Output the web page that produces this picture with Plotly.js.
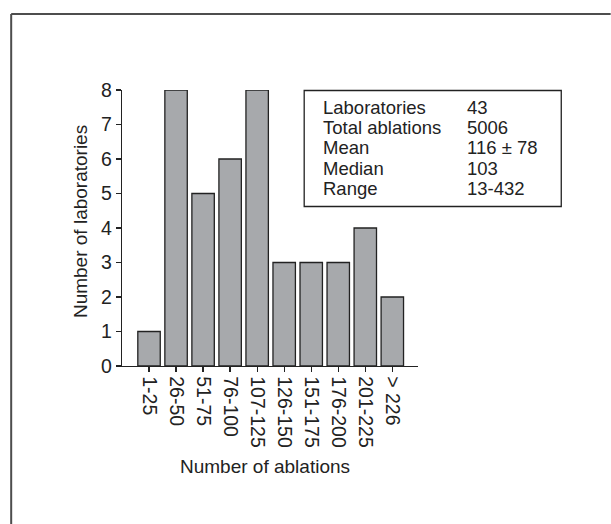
<!DOCTYPE html>
<html>
<head>
<meta charset="utf-8">
<script src="https://cdn.plot.ly/plotly-3.0.1.min.js"></script>
<style>html,body{margin:0;padding:0;background:#fff;}#chart{width:611px;height:524px;}</style>
</head>
<body>
<div id="chart"></div>
<script>
// Data
const categories = ["1-25", "26-50", "51-75", "76-100", "107-125", "126-150", "151-175", "176-200", "201-225", "> 226"];
const laboratories = [1, 8, 5, 6, 8, 3, 3, 3, 4, 2];
const statLabels = ["Laboratories", "Total ablations", "Mean", "Median", "Range"];
const statValues = ["43", "5006", "116 \u00b1 78", "103", "13-432"];
const xTitle = "Number of ablations";
const yTitle = "Number of laboratories";

const FONT = "'Liberation Sans', Arial, sans-serif";
const INK = "#222222";

// Plot geometry (pixels)
const W = 611, H = 524;
const L = 121.5, R = 418, T = 90, B = 366;
const pw = R - L, ph = B - T;
const px = x => (x - L) / pw;
const py = y => (B - y) / ph;

const annotations = [];
const rowTop = 107.5, rowStep = 20.2;
statLabels.forEach((lab, i) => {
  annotations.push({xref: "paper", yref: "paper", x: px(321), y: py(rowTop + i * rowStep),
    xanchor: "left", yanchor: "middle", showarrow: false, text: lab,
    font: {family: FONT, size: 18.5, color: INK}});
  annotations.push({xref: "paper", yref: "paper", x: px(465), y: py(rowTop + i * rowStep),
    xanchor: "left", yanchor: "middle", showarrow: false, text: statValues[i],
    font: {family: FONT, size: 18.5, color: INK}});
});
annotations.push({xref: "paper", yref: "paper", x: px(265), y: py(466), xanchor: "center", yanchor: "middle",
  showarrow: false, text: xTitle, font: {family: FONT, size: 19, color: INK}});
annotations.push({xref: "paper", yref: "paper", x: px(80), y: py(221.5), xanchor: "center", yanchor: "middle",
  showarrow: false, textangle: -90, text: yTitle, font: {family: FONT, size: 19, color: INK}});

const shapes = [
  {type: "rect", xref: "paper", yref: "paper", x0: px(304), x1: px(561.5), y0: py(206.5), y1: py(90.5),
    line: {color: INK, width: 1.3}, fillcolor: "rgba(0,0,0,0)"},
  {type: "line", xref: "paper", yref: "paper", x0: px(10.5), x1: px(611), y0: py(14), y1: py(14),
    line: {color: "#4d4d4d", width: 2}},
  {type: "line", xref: "paper", yref: "paper", x0: px(10.5), x1: px(10.5), y0: py(14), y1: py(524),
    line: {color: "#4d4d4d", width: 2}}
];

const trace = {
  type: "bar", x: categories, y: laboratories,
  marker: {color: "#a7a9ac", line: {color: INK, width: 1.3}},
  hoverinfo: "none"
};

const layout = {
  width: W, height: H,
  margin: {l: L, r: W - R, t: T, b: H - B, pad: 0},
  paper_bgcolor: "#ffffff", plot_bgcolor: "#ffffff",
  showlegend: false, bargap: 0.17,
  font: {family: FONT, size: 19.5, color: INK},
  xaxis: {type: "category", range: [-1, 9.95], showline: true, linecolor: INK, linewidth: 1.3,
    ticks: "outside", ticklen: 5, tickcolor: INK, tickwidth: 1.3, tickangle: 90,
    showgrid: false, zeroline: false, fixedrange: true,
    tickfont: {family: FONT, size: 19.5, color: INK}},
  yaxis: {range: [0, 8], dtick: 1, showline: true, linecolor: INK, linewidth: 1.3,
    ticks: "outside", ticklen: 5, tickcolor: INK, tickwidth: 1.3,
    showgrid: false, zeroline: false, fixedrange: true,
    tickfont: {family: FONT, size: 19.5, color: INK}},
  annotations: annotations,
  shapes: shapes
};

Plotly.newPlot("chart", [trace], layout, {staticPlot: true, displayModeBar: false});
</script>
</body>
</html>
